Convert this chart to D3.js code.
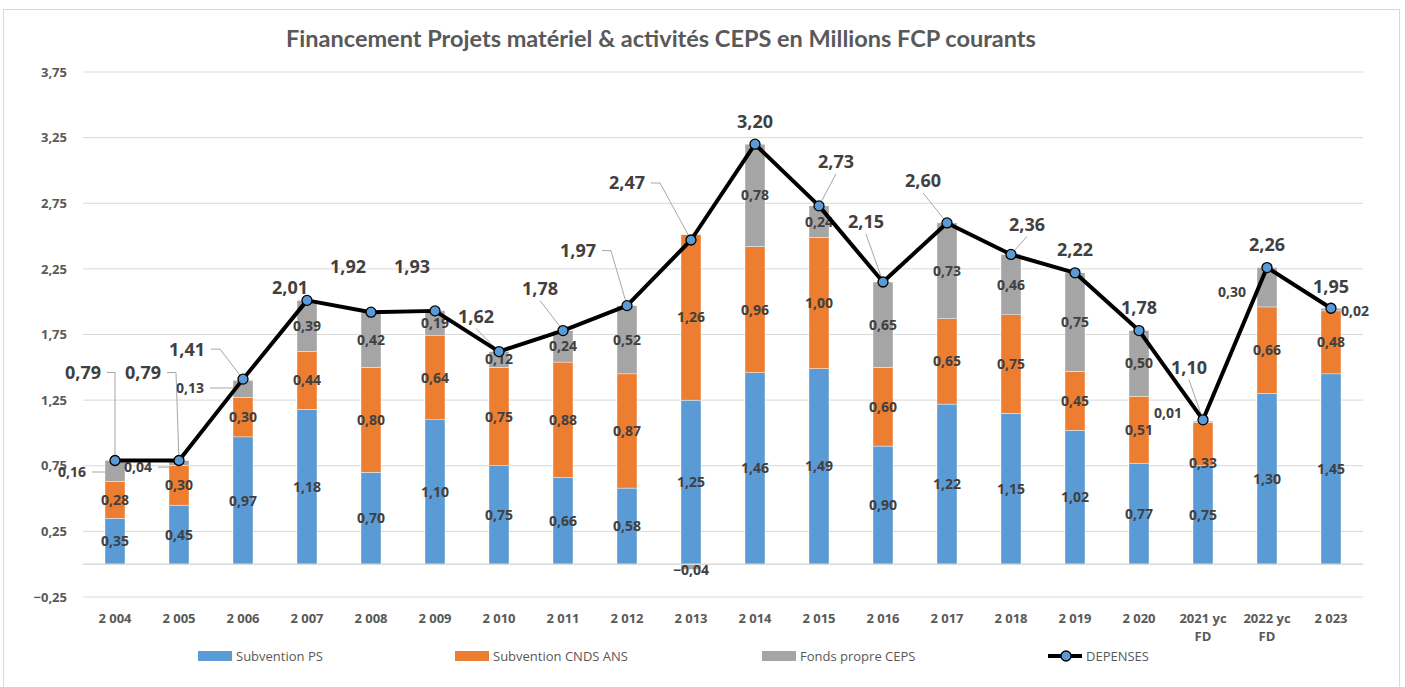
<!DOCTYPE html>
<html>
<head>
<meta charset="utf-8">
<script src="https://cdn.jsdelivr.net/npm/d3@7"></script>
<style>
  body { margin: 0; background: #fff; }
  svg text { font-family: "Open Sans", sans-serif; }
</style>
</head>
<body>
<script>
// data
var categories = ["2 004", "2 005", "2 006", "2 007", "2 008", "2 009", "2 010", "2 011", "2 012", "2 013",
                  "2 014", "2 015", "2 016", "2 017", "2 018", "2 019", "2 020", "2021 yc FD", "2022 yc FD", "2 023"];
var subventionPS = [0.35, 0.45, 0.97, 1.18, 0.70, 1.10, 0.75, 0.66, 0.58, 1.25,
                    1.46, 1.49, 0.90, 1.22, 1.15, 1.02, 0.77, 0.75, 1.30, 1.45];
var subventionCNDS = [0.28, 0.30, 0.30, 0.44, 0.80, 0.64, 0.75, 0.88, 0.87, 1.26,
                      0.96, 1.00, 0.60, 0.65, 0.75, 0.45, 0.51, 0.33, 0.66, 0.48];
var fondsPropres = [0.16, 0.04, 0.13, 0.39, 0.42, 0.19, 0.12, 0.24, 0.52, -0.04,
                    0.78, 0.24, 0.65, 0.73, 0.46, 0.75, 0.50, 0.01, 0.30, 0.02];
var depenses = [0.79, 0.79, 1.41, 2.01, 1.92, 1.93, 1.62, 1.78, 1.97, 2.47,
                3.20, 2.73, 2.15, 2.60, 2.36, 2.22, 1.78, 1.10, 2.26, 1.95];
var yTicks = [-0.25, 0.25, 0.75, 1.25, 1.75, 2.25, 2.75, 3.25, 3.75];
var seriesNames = ["Subvention PS", "Subvention CNDS ANS", "Fonds propre CEPS", "DEPENSES"];

// hand placed label offsets (as in the original workbook)
var lineLabelDx = [-32, -36, -56, -17, -23, -23, -23, -23, -49, -64, 0, 17, -17, -24, 16, 0, 0, -14, 0, 0];
var lineLabelDy = [-88, -88, -30, -13, -46, -44, -35, -42, -55, -57, -23, -44, -60, -42, -30, -23, -23, -52, -23, -22];
var lineLeader  = [3, 2, 2, 0, 0, 0, 1, 1, 2, 2, 0, 1, 1, 1, 1, 0, 0, 1, 0, 0]; // 0 none, 1 straight, 2 elbow, 3 square elbow
var grayLabelDx = [-43, -41, -53, 0, 0, 0, 0, 0, 0, 0, 0, 0, 0, 0, 0, 0, 0, -35, -35, 24];
var grayLabelDy = [1, 4, -1, 0, 0, 0, 0, 0, 0, 2, 0, 0, 0, 0, 0, 0, 0, -9, 5, 1];
var grayLeader  = [1, 1, 1, 0, 0, 0, 0, 0, 0, 0, 0, 0, 0, 0, 0, 0, 0, 0, 0, 0];

var colors = ["#5b9bd5", "#ed7d31", "#a5a5a5"];
var labelColor = "#404040";
var axisColor = "#595959";

var W = 1405, H = 687;
var svg = d3.select("body").append("svg").attr("width", W).attr("height", H);

// chart frame
svg.append("rect").attr("x", 3.5).attr("y", 9.5).attr("width", 1396).attr("height", 700)
  .attr("fill", "#fff").attr("stroke", "#d9d9d9");

svg.append("text").attr("x", 661).attr("y", 47).attr("text-anchor", "middle")
  .style("font-family", "Lato, sans-serif").style("font-weight", "bold").style("font-size", "23.5px")
  .attr("fill", axisColor)
  .text("Financement Projets matériel & activités CEPS en Millions FCP courants");

var xScale = d3.scaleBand().domain(categories).range([83, 1363]);
var yScale = d3.scaleLinear().domain([-0.25, 3.75]).range([597, 72]);
var barW = 20;

// gridlines
svg.append("g").selectAll("line").data(yTicks).enter().append("line")
  .attr("x1", 83).attr("x2", 1363)
  .attr("y1", function(d) { return yScale(d); }).attr("y2", function(d) { return yScale(d); })
  .attr("stroke", "#d9d9d9").attr("stroke-width", 1);

// y axis labels
var yAxis = svg.append("g").attr("transform", "translate(67,0)")
  .call(d3.axisLeft(yScale).tickValues(yTicks).tickSize(0).tickPadding(0)
    .tickFormat(function(d) { return d3.format(".2f")(d).replace(".", ","); }));
yAxis.select(".domain").remove();
yAxis.selectAll("text").attr("fill", axisColor).style("font-size", "13px").style("font-weight", "bold")
  .style("font-family", "Open Sans, sans-serif");

// stacked data
var rows = categories.map(function(c, i) {
  return { cat: c, vals: [subventionPS[i], subventionCNDS[i], fondsPropres[i]] };
});
var segs = [];
rows.forEach(function(r, i) {
  var pos = 0, neg = 0;
  r.vals.forEach(function(v, k) {
    var y0, y1;
    if (v >= 0) { y0 = pos; y1 = pos + v; pos = y1; }
    else { y0 = neg + v; y1 = neg; neg = y0; }
    segs.push({ i: i, k: k, cat: r.cat, v: v, y0: y0, y1: y1 });
  });
});

svg.append("g").selectAll("rect").data(segs).enter().append("rect")
  .attr("x", function(d) { return xScale(d.cat) + xScale.bandwidth() / 2 - barW / 2; })
  .attr("width", barW)
  .attr("y", function(d) { return yScale(d.y1); })
  .attr("height", function(d) { return yScale(d.y0) - yScale(d.y1); })
  .attr("fill", function(d) { return colors[d.k]; })
  .attr("stroke", "#fff").attr("stroke-width", 0.4);

// x axis line at zero
svg.append("line").attr("x1", 83).attr("x2", 1363).attr("y1", yScale(0)).attr("y2", yScale(0))
  .attr("stroke", "#d9d9d9").attr("stroke-width", 1.5);

// x labels
var xl = svg.append("g").selectAll("text").data(categories).enter().append("text")
  .attr("x", function(d) { return xScale(d) + xScale.bandwidth() / 2; })
  .attr("y", 623).attr("text-anchor", "middle")
  .attr("fill", axisColor).style("font-size", "13px").style("font-weight", "bold");
xl.each(function(d) {
  var t = d3.select(this);
  var parts = d.indexOf("yc") > 0 ? [d.replace(" FD", ""), "FD"] : [d];
  parts.forEach(function(p, j) {
    t.append("tspan").attr("x", t.attr("x")).attr("dy", j === 0 ? 0 : 18).text(p);
  });
});

var fmt = function(v) { return d3.format(".2f")(v).replace(".", ","); };

// segment labels + leaders
var segLabels = svg.append("g");
segs.forEach(function(d) {
  var cx = xScale(d.cat) + xScale.bandwidth() / 2;
  var cy = (yScale(d.y0) + yScale(d.y1)) / 2;
  var dx = 0, dy = 0;
  if (d.k === 2) { dx = grayLabelDx[d.i]; dy = grayLabelDy[d.i]; }
  if (d.k === 1 && d.cat === "2021 yc FD") { dy = 19; }
  if (d.k === 2 && d.v < 0) { dy = 3; }
  if (d.k === 2 && grayLeader[d.i]) {
    segLabels.append("line")
      .attr("x1", cx + dx + 20).attr("y1", cy + dy).attr("x2", cx - barW / 2).attr("y2", cy + dy)
      .attr("stroke", "#a6a6a6").attr("stroke-width", 1);
  }
  segLabels.append("text").attr("x", cx + dx).attr("y", cy + dy).attr("dy", "0.36em")
    .attr("text-anchor", "middle").attr("fill", labelColor)
    .style("font-size", "14px").style("font-weight", "bold").text(fmt(d.v));
});

// DEPENSES line
var line = d3.line()
  .x(function(d, i) { return xScale(categories[i]) + xScale.bandwidth() / 2; })
  .y(function(d) { return yScale(d); });

// leaders for line labels
var leaders = svg.append("g");
depenses.forEach(function(v, i) {
  var px = xScale(categories[i]) + xScale.bandwidth() / 2, py = yScale(v);
  var lx = px + lineLabelDx[i], ly = py + lineLabelDy[i];
  if (lineLeader[i] === 2 || lineLeader[i] === 3) {
    var ex = lineLeader[i] === 3 ? px : lx + 33;
    leaders.append("polyline")
      .attr("points", [[lx + 24, ly], [ex, ly], [px, py]].join(" "))
      .attr("fill", "none").attr("stroke", "#a6a6a6").attr("stroke-width", 1);
  } else if (lineLeader[i] === 1) {
    leaders.append("line").attr("x1", lx).attr("y1", ly + 12).attr("x2", px).attr("y2", py)
      .attr("stroke", "#a6a6a6").attr("stroke-width", 1);
  }
});

svg.append("path").datum(depenses).attr("d", line)
  .attr("fill", "none").attr("stroke", "#000").attr("stroke-width", 4).attr("stroke-linejoin", "round");

svg.append("g").selectAll("circle").data(depenses).enter().append("circle")
  .attr("cx", function(d, i) { return xScale(categories[i]) + xScale.bandwidth() / 2; })
  .attr("cy", function(d) { return yScale(d); })
  .attr("r", 5).attr("fill", "#5b9bd5").attr("stroke", "#000").attr("stroke-width", 1.3);

svg.append("g").selectAll("text").data(depenses).enter().append("text")
  .attr("x", function(d, i) { return xScale(categories[i]) + xScale.bandwidth() / 2 + lineLabelDx[i]; })
  .attr("y", function(d, i) { return yScale(d) + lineLabelDy[i]; })
  .attr("dy", "0.36em").attr("text-anchor", "middle").attr("fill", labelColor)
  .style("font-size", "18px").style("font-weight", "bold").text(fmt);

// legend
var legX = [198, 455, 762, 1048];
var legend = svg.append("g").style("font-family", "Lato, sans-serif");
seriesNames.forEach(function(name, k) {
  var g = legend.append("g").attr("transform", "translate(" + legX[k] + ",656)");
  if (k < 3) {
    g.append("rect").attr("x", 0).attr("y", -5).attr("width", 34).attr("height", 10).attr("fill", colors[k]);
  } else {
    g.append("line").attr("x1", 0).attr("x2", 34).attr("y1", 0).attr("y2", 0).attr("stroke", "#000").attr("stroke-width", 4);
    g.append("circle").attr("cx", 18).attr("cy", 0).attr("r", 5).attr("fill", "#5b9bd5").attr("stroke", "#000").attr("stroke-width", 1.3);
  }
  g.append("text").attr("x", 38).attr("y", 0).attr("dy", "0.35em").attr("fill", axisColor)
    .style("font-size", "13px").text(name);
});
</script>
</body>
</html>
